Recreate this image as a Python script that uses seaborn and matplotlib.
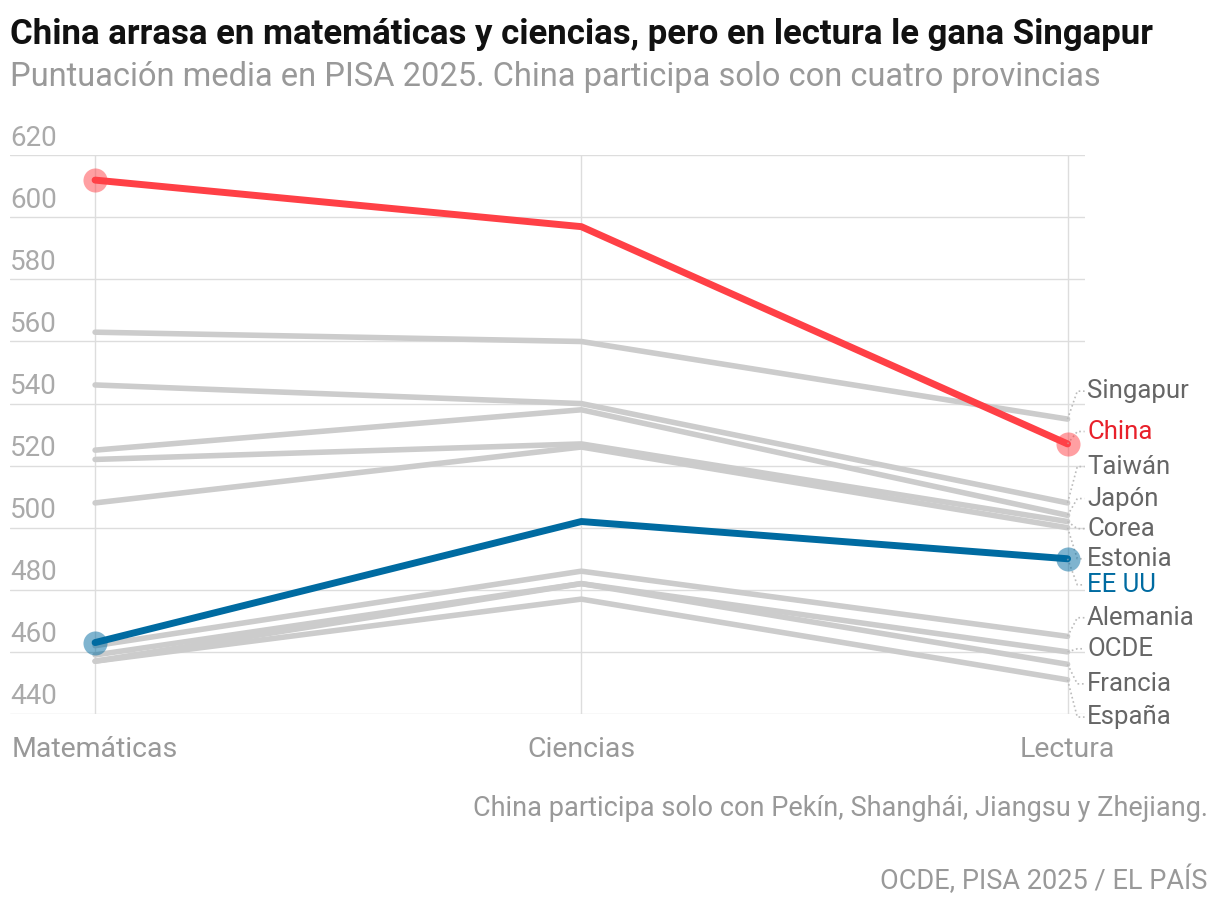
import matplotlib
matplotlib.use("Agg")
import matplotlib.pyplot as plt
import seaborn as sns
import pandas as pd

subjects = ["Matemáticas", "Ciencias", "Lectura"]
countries = ["Singapur", "Taiwán", "Japón", "Corea", "Estonia", "Alemania", "OCDE", "Francia", "España", "EE UU", "China"]
mat = [563, 546, 525, 522, 508, 462, 459, 457, 457, 463, 612]
cie = [560, 540, 538, 527, 526, 486, 482, 482, 477, 502, 597]
lec = [535, 508, 504, 502, 500, 465, 460, 456, 451, 490, 527]
label_y = [544, 531, 519.7, 509.4, 499.7, 490, 481.6, 471, 461, 449.7, 439]
label_order = ["Singapur", "China", "Taiwán", "Japón", "Corea", "Estonia", "EE UU", "Alemania", "OCDE", "Francia", "España"]
yticks = [440, 460, 480, 500, 520, 540, 560, 580, 600, 620]

RED, BLUE, GRAY = "#ff4046", "#006ba1", "#cccccc"
colors = {c: GRAY for c in countries}
colors["China"] = RED
colors["EE UU"] = BLUE

rows = []
for i, c in enumerate(countries):
    for j, v in enumerate([mat[i], cie[i], lec[i]]):
        rows.append({"country": c, "x": j, "v": v})
df = pd.DataFrame(rows)

sns.set_style("white")
plt.rcParams["font.family"] = ["Roboto", "DejaVu Sans"]
fig = plt.figure(figsize=(12.2, 9.08), dpi=100)
ax = fig.add_axes([0.0082, 0.2137, 0.889 - 0.0082, 0.829 - 0.2137])
gray_df = df[~df.country.isin(["China", "EE UU"])]
sns.lineplot(data=gray_df, x="x", y="v", units="country", estimator=None, color=GRAY, lw=4, ax=ax)
for c in ["EE UU", "China"]:
    d = df[df.country == c]
    sns.lineplot(data=d, x="x", y="v", color=colors[c], lw=5, ax=ax)
    ax.scatter([0, 2], [d.v.iloc[0], d.v.iloc[2]], s=300, color=colors[c], alpha=0.5, zorder=5, lw=0)

ax.set_xlim(-0.175, 2.035)
ax.set_ylim(440, 620)
for s in ax.spines.values():
    s.set_visible(False)
ax.set_yticks(yticks)
ax.set_yticklabels([])
ax.tick_params(length=0)
ax.grid(axis="y", color="#dddddd", lw=1)
for x in [0, 1, 2]:
    ax.axvline(x, color="#dddddd", lw=1, zorder=0)
ax.set_xticks([])
ax.set_xlabel("")
ax.set_ylabel("")
for t in yticks:
    ax.text(-0.175, t + 1.2, str(t), color="#aaaaaa", fontsize=20, va="bottom", ha="left")
for j, s in enumerate(subjects):
    ax.text(j, 433, s, color="#999999", fontsize=20.5, ha="center", va="top")

vals = dict(zip(countries, lec))
for c, ly in zip(label_order, label_y):
    col = colors[c] if c != "China" else "#e8202a"
    tc = "#666666" if colors[c] == GRAY else col
    ax.plot([2, 2.02, 2.035], [vals[c], ly, ly], ls=":", color="#bbbbbb", lw=1.2, clip_on=False)
    ax.text(2.04, ly, c, color=tc, fontsize=18.5, va="center", ha="left")

fig.text(0.0082, 0.962, "China arrasa en matemáticas y ciencias, pero en lectura le gana Singapur",
         fontsize=25, fontweight="bold", color="#111111", va="center")
fig.text(0.0082, 0.915, "Puntuación media en PISA 2025. China participa solo con cuatro provincias",
         fontsize=23.5, color="#999999", va="center")
fig.text(0.99, 0.110, "China participa solo con Pekín, Shanghái, Jiangsu y Zhejiang.",
         fontsize=19.5, color="#999999", ha="right", va="center")
fig.text(0.99, 0.031, "OCDE, PISA 2025 / EL PAÍS", fontsize=19.5, color="#999999", ha="right", va="center")
fig.savefig("out.png", dpi=100)
